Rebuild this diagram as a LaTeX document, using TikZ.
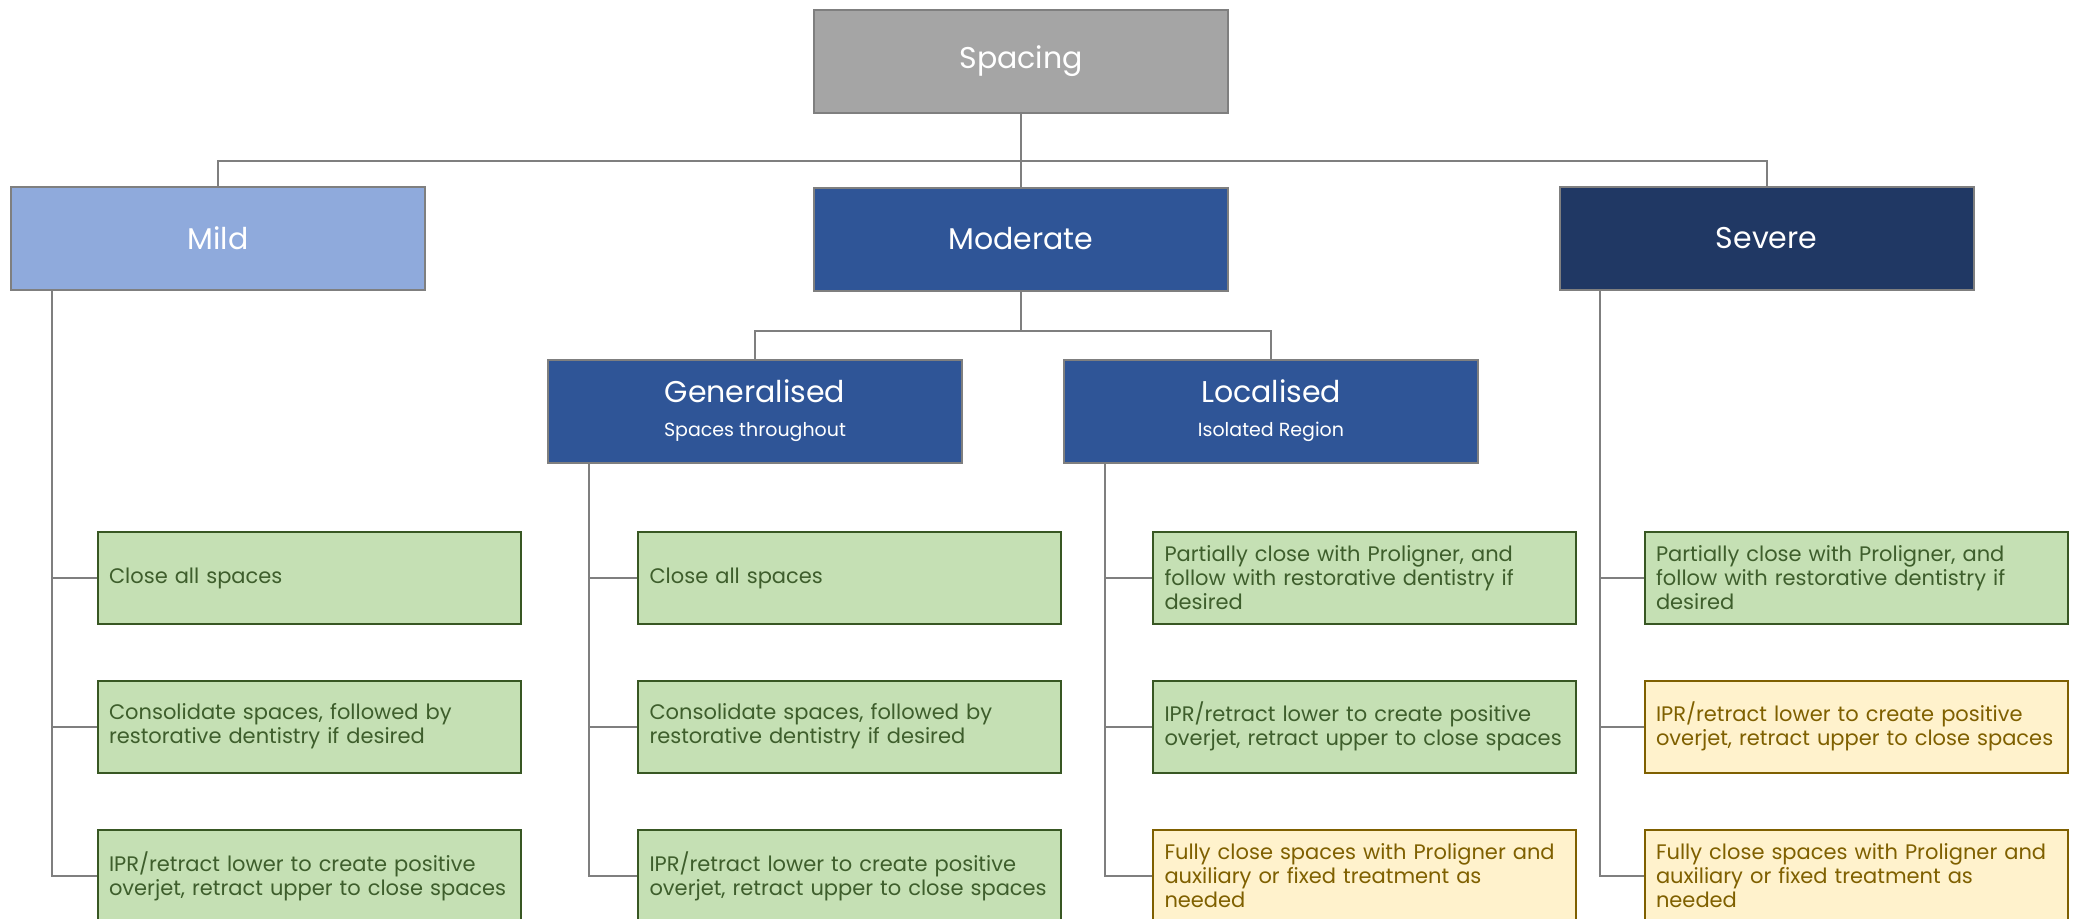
\documentclass[tikz,border=0pt]{standalone}
\usepackage{fontspec}
\setmainfont{Poppins}
\definecolor{linegray}{HTML}{7F7F7F}
\definecolor{spacegray}{HTML}{A5A5A5}
\definecolor{mildblue}{HTML}{8FAADC}
\definecolor{modblue}{HTML}{2F5597}
\definecolor{sevblue}{HTML}{203864}
\definecolor{greenfill}{HTML}{C5E0B4}
\definecolor{greenline}{HTML}{385723}
\definecolor{greentext}{HTML}{3E5E2C}
\definecolor{yellowfill}{HTML}{FFF2CC}
\definecolor{yellowline}{HTML}{7F6000}
\definecolor{yellowtext}{HTML}{7F6000}
\begin{document}
\begin{tikzpicture}[x=0.5pt,y=-0.5pt,
  hdr/.style={draw=linegray, line width=1pt, minimum width=207pt, minimum height=51.5pt,
    text=white, inner sep=0pt, align=center, font=\fontsize{15}{20}\selectfont},
  leaf/.style={draw=greenline, fill=greenfill, text=greentext, line width=1pt,
    minimum width=211.5pt, minimum height=46pt, text width=200pt, inner xsep=5.75pt,
    inner ysep=0pt, align=left, font=\fontsize{10.5}{12}\selectfont},
  warn/.style={leaf, draw=yellowline, fill=yellowfill, text=yellowtext},
  conn/.style={draw=linegray, line width=1pt}]
\clip (0,0) rectangle (2075,918);
\fill[white] (0,0) rectangle (2075,918);

% headers
\node[hdr, fill=spacegray] (spacing) at (1021,61) {Spacing};
\node[hdr, fill=mildblue] (mild) at (218,238.5) {Mild};
\node[hdr, fill=modblue] (moderate) at (1021,239) {Moderate};
\node[hdr, fill=sevblue] (severe) at (1766.5,238.5) {Severe};
\node[hdr, fill=modblue] (gen) at (755,411) {Generalised\\[-3pt]{\fontsize{9.5}{11}\selectfont Spaces throughout}};
\node[hdr, fill=modblue] (loc) at (1271,411) {Localised\\[-3pt]{\fontsize{9.5}{11}\selectfont Isolated Region}};

% leaves: mild
\node[leaf] (m1) at (309,578) {Close all spaces};
\node[leaf] (m2) at (309,726.5) {Consolidate spaces, followed by\\restorative dentistry if desired};
\node[leaf] (m3) at (309,876) {IPR/retract lower to create positive\\overjet, retract upper to close spaces};
% generalised
\node[leaf] (g1) at (849.5,578) {Close all spaces};
\node[leaf] (g2) at (849.5,726.5) {Consolidate spaces, followed by\\restorative dentistry if desired};
\node[leaf] (g3) at (849.5,876) {IPR/retract lower to create positive\\overjet, retract upper to close spaces};
% localised
\node[leaf] (l1) at (1364.5,578) {Partially close with Proligner, and\\follow with restorative dentistry if\\desired};
\node[leaf] (l2) at (1364.5,726.5) {IPR/retract lower to create positive\\overjet, retract upper to close spaces};
\node[warn] (l3) at (1364.5,876) {Fully close spaces with Proligner and\\auxiliary or fixed treatment as\\needed};
% severe
\node[leaf] (s1) at (1856,578) {Partially close with Proligner, and\\follow with restorative dentistry if\\desired};
\node[warn] (s2) at (1856,726.5) {IPR/retract lower to create positive\\overjet, retract upper to close spaces};
\node[warn] (s3) at (1856,876) {Fully close spaces with Proligner and\\auxiliary or fixed treatment as\\needed};

% top connectors
\coordinate (bus) at (0,161);
\coordinate (mbus) at (0,331);
\draw[conn] (spacing.south) -- (moderate.north);
\draw[conn] (mild.north) |- (severe.north |- bus) -- (severe.north);
\draw[conn] (moderate.south) -- (moderate.south |- mbus);
\draw[conn] (gen.north) |- (loc.north |- mbus) -- (loc.north);

% column stems
\coordinate (ms) at ([xshift=20.75pt]mild.south west);
\coordinate (gs) at ([xshift=20.75pt]gen.south west);
\coordinate (ls) at ([xshift=20.75pt]loc.south west);
\coordinate (ss) at ([xshift=20.75pt]severe.south west);
\draw[conn] (ms) |- (m3.west);
\draw[conn] (ms |- m1.west) -- (m1.west);
\draw[conn] (ms |- m2.west) -- (m2.west);
\draw[conn] (gs) |- (g3.west);
\draw[conn] (gs |- g1.west) -- (g1.west);
\draw[conn] (gs |- g2.west) -- (g2.west);
\draw[conn] (ls) |- (l3.west);
\draw[conn] (ls |- l1.west) -- (l1.west);
\draw[conn] (ls |- l2.west) -- (l2.west);
\draw[conn] (ss) |- (s3.west);
\draw[conn] (ss |- s1.west) -- (s1.west);
\draw[conn] (ss |- s2.west) -- (s2.west);
\end{tikzpicture}
\end{document}
